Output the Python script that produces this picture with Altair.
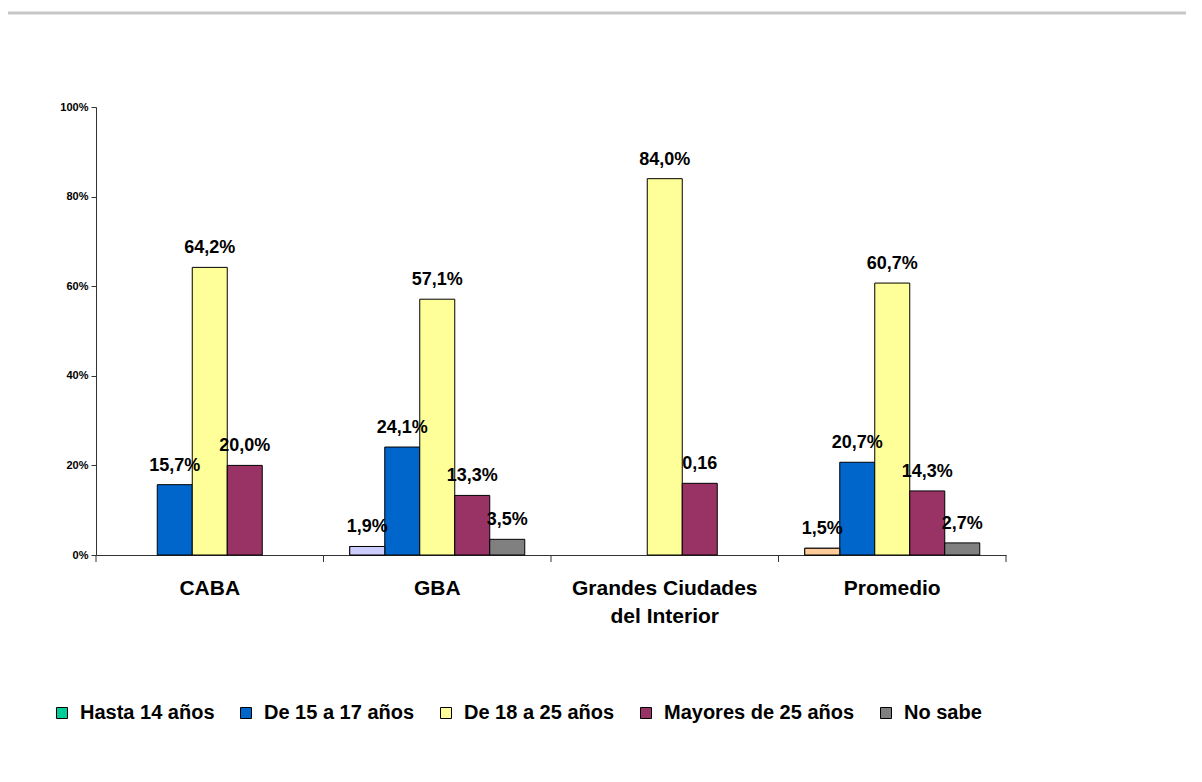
import altair as alt
import pandas as pd

categories = ["CABA", "GBA", "Grandes Ciudades del Interior", "Promedio"]
series = ["Hasta 14 años", "De 15 a 17 años", "De 18 a 25 años",
          "Mayores de 25 años", "No sabe"]

hasta_14 = [None, 1.9, None, 1.5]
de_15_17 = [15.7, 24.1, None, 20.7]
de_18_25 = [64.2, 57.1, 84.0, 60.7]
mayores_25 = [20.0, 13.3, 16.0, 14.3]
no_sabe = [None, 3.5, None, 2.7]

labels_hasta_14 = [None, "1,9%", None, "1,5%"]
labels_de_15_17 = ["15,7%", "24,1%", None, "20,7%"]
labels_de_18_25 = ["64,2%", "57,1%", "84,0%", "60,7%"]
labels_mayores_25 = ["20,0%", "13,3%", "0,16", "14,3%"]
labels_no_sabe = [None, "3,5%", None, "2,7%"]

series_colors = ["#00CC99", "#0066CC", "#FFFF99", "#993366", "#808080"]
series_strokes = ["#000000"] * 5
# individual bar colours that differ from the series colour
hasta_14_point_colors = [None, "#CCCCFF", None, "#FFCC99"]

y_ticks = [0, 20, 40, 60, 80, 100]

values = [hasta_14, de_15_17, de_18_25, mayores_25, no_sabe]
labels = [labels_hasta_14, labels_de_15_17, labels_de_18_25,
          labels_mayores_25, labels_no_sabe]
point_colors = [hasta_14_point_colors, [None] * 4, [None] * 4, [None] * 4, [None] * 4]

rows = []
for s, vals, labs, pcs in zip(series, values, labels, point_colors):
    for c, v, l, pc in zip(categories, vals, labs, pcs):
        if v is None:
            continue
        rows.append({"cat": c, "series": s, "value": v, "label": l,
                     "fill": pc if pc else ""})
df = pd.DataFrame(rows)
cats_df = pd.DataFrame({"cat": categories})

FONT = "Liberation Sans"

x_enc = alt.X("cat:N", sort=categories,
              scale=alt.Scale(domain=categories, paddingInner=0, paddingOuter=0),
              axis=alt.Axis(title=None, labelAngle=0, ticks=False,
                            labelFontSize=21, labelFontWeight="bold",
                            labelColor="black", labelPadding=22,
                            labelLineHeight=28, domainColor="#333333",
                            labelLimit=400,
                            labelExpr="datum.value == 'Grandes Ciudades del Interior' ? ['Grandes Ciudades', 'del Interior'] : datum.label"))
xoff_enc = alt.XOffset("series:N", sort=series,
                       scale=alt.Scale(domain=series, paddingInner=0, paddingOuter=0.75))
y_enc = alt.Y("value:Q",
              scale=alt.Scale(domain=[0, 100], nice=False),
              axis=alt.Axis(title=None, values=y_ticks, grid=False,
                            labelExpr="datum.value + '%'",
                            labelFontSize=11, labelFontWeight="bold",
                            labelColor="black", tickSize=5, tickColor="#333333",
                            domainColor="#333333", labelPadding=3))

legend = alt.Legend(title=None, orient="none",
                    direction="horizontal", columns=5,
                    legendX=-44, legendY=596,
                    symbolType="square", symbolSize=121,
                    symbolStrokeWidth=1,
                    labelFontSize=20, labelFontWeight="bold",
                    labelColor="black", labelOffset=8,
                    columnPadding=21, labelLimit=400)

base = alt.Chart(df)

bars = base.mark_bar(strokeWidth=1).encode(
    x=x_enc, xOffset=xoff_enc, y=y_enc,
    color=alt.Color("series:N", sort=series,
                    scale=alt.Scale(domain=series, range=series_colors),
                    legend=legend),
    stroke=alt.Stroke("series:N", sort=series,
                      scale=alt.Scale(domain=series, range=series_strokes),
                      legend=legend),
)

special = base.transform_filter("datum.fill != ''").mark_bar(
    stroke="black", strokeWidth=1).encode(
    x=x_enc, xOffset=xoff_enc, y=y_enc,
    fill=alt.Fill("fill:N", scale=None, legend=None),
)

text = base.mark_text(fontSize=18, fontWeight="bold", color="black",
                      baseline="middle", dy=-19).encode(
    x=x_enc, xOffset=xoff_enc, y=y_enc, text="label:N")

xticks = alt.Chart(cats_df).mark_rule(color="#333333").encode(
    x=alt.X("cat:N", sort=categories, bandPosition=0),
    y=alt.value(448), y2=alt.value(455))

end_tick = alt.Chart(pd.DataFrame({"a": [0]})).mark_rule(color="#333333").encode(
    x=alt.value(910), y=alt.value(448), y2=alt.value(455))

top_line = alt.Chart(pd.DataFrame({"a": [0]})).mark_rule(
    color="#C8C8C8", strokeWidth=3).encode(
    x=alt.value(-88), x2=alt.value(1110), y=alt.value(-94))

chart = alt.layer(top_line, bars, special, text, xticks, end_tick).properties(
    width=910, height=448,
    autosize=alt.AutoSizeParams(type="none"),
    padding={"left": 88, "top": 99, "right": 180, "bottom": 210},
    background="white",
).configure(font=FONT).configure_view(stroke=None)

chart.save("out.html", embed_options={"renderer": "svg", "actions": False})
